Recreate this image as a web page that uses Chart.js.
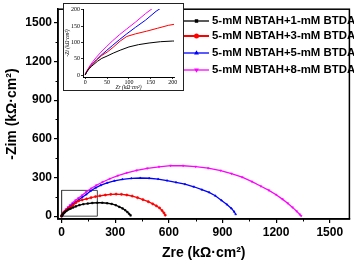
<!DOCTYPE html>
<html lang="en">
<head>
  <meta charset="UTF-8">
  <title>Nyquist plot</title>
  <script src="https://cdn.jsdelivr.net/npm/chart.js"></script>
  <style>
    body { margin: 0; background: #fff; }
    #wrap { position: relative; width: 354px; height: 265px; overflow: hidden; }
    #inset { position: absolute; left: 63px; top: 3px; }
  </style>
</head>
<body>
  <div id="wrap">
    <canvas id="mainChart" width="354" height="265"></canvas>
    <canvas id="inset" width="121" height="88"></canvas>
  </div>

  <script>
    // series labels and colours
    const labels = ['5-mM NBTAH+1-mM BTDA', '5-mM NBTAH+3-mM BTDA', '5-mM NBTAH+5-mM BTDA', '5-mM NBTAH+8-mM BTDA'];
    const colors = ['#000000', '#ff0000', '#0000ff', '#ff00ff'];
    const markers = ['rect', 'circle', 'triangle', 'triangle'];

    // Zre / -Zim values (kΩ·cm²)
    const zre1 = [0, 2, 5, 9, 14, 20, 28, 38, 50, 64, 80, 100, 122, 146, 172, 200, 228, 255, 280, 303, 323, 341, 356, 368, 378, 386];
    const zim1 = [0, 6, 12, 19, 26, 33, 42, 51, 58, 67, 76, 86, 93, 98, 102, 104, 104, 100, 95, 85, 72, 60, 46, 32, 18, 6];

    const zre3 = [0, 2, 5, 9, 14, 20, 28, 38, 50, 64, 80, 95, 115, 140, 165, 190, 215, 245, 275, 305, 335, 365, 395, 425, 455, 485, 510, 530, 548, 562, 572, 580];
    const zim3 = [0, 7, 14, 22, 30, 38, 48, 60, 70, 85, 104, 118, 126, 134, 143, 152, 158, 164, 169, 171, 169, 164, 156, 143, 128, 112, 95, 80, 64, 44, 26, 8];

    const zre5 = [0, 3, 7, 12, 18, 26, 36, 48, 62, 78, 95, 115, 138, 162, 190, 220, 255, 295, 340, 390, 440, 490, 540, 590, 640, 690, 740, 785, 825, 860, 895, 925, 950, 965, 974];
    const zim5 = [0, 9, 18, 27, 36, 47, 60, 74, 90, 108, 126, 146, 168, 195, 220, 240, 258, 274, 286, 293, 296, 294, 288, 276, 262, 248, 228, 205, 185, 158, 122, 90, 60, 35, 15];

    const zre8 = [0, 3, 7, 12, 18, 26, 36, 48, 62, 78, 95, 115, 138, 165, 195, 230, 270, 315, 365, 420, 480, 545, 610, 680, 750, 820, 890, 950, 1010, 1065, 1115, 1160, 1200, 1235, 1265, 1292, 1315, 1332, 1340];
    const zim8 = [0, 10, 20, 31, 42, 55, 70, 86, 104, 123, 141, 162, 188, 215, 240, 265, 290, 314, 336, 355, 371, 383, 392, 391, 384, 372, 354, 330, 302, 268, 232, 200, 166, 132, 100, 68, 38, 14, 2];

    // region shown in the inset
    const boxZre = [0, 200, 200, 0, 0];
    const boxZim = [0, 0, 200, 200, 0];

    const mainTicks = [0, 300, 600, 900, 1200, 1500];
    const insetTicks = [0, 50, 100, 150, 200];

    const seriesX = [zre1, zre3, zre5, zre8];
    const seriesY = [zim1, zim3, zim5, zim8];

    const toPts = (xs, ys) => xs.map((x, i) => ({ x: x, y: ys[i] }));

    const boldFont = size => ({ family: 'Liberation Sans', size: size, weight: 'bold' });
    const plain = v => String(v);

    function markerRotation(i) { return i === 3 ? 180 : 0; }

    // outer frame, minor ticks and legend
    const mainDecor = {
      id: 'mainDecor',
      afterDraw(chart) {
        const ctx = chart.ctx;
        const a = chart.chartArea;
        ctx.save();
        ctx.strokeStyle = '#000';
        ctx.lineWidth = 1.5;
        ctx.strokeRect(a.left, a.top, a.right - a.left, a.bottom - a.top);

        // minor ticks
        ctx.lineWidth = 1;
        const xs = chart.scales.x, ys = chart.scales.y;
        for (let v = 150; v < 1600; v += 300) {
          const px = Math.round(xs.getPixelForValue(v)) + 0.5;
          ctx.beginPath(); ctx.moveTo(px, a.bottom); ctx.lineTo(px, a.bottom + 2.5); ctx.stroke();
          const py = Math.round(ys.getPixelForValue(v)) + 0.5;
          ctx.beginPath(); ctx.moveTo(a.left, py); ctx.lineTo(a.left - 2.5, py); ctx.stroke();
        }

        // legend
        const rows = [21, 36, 53, 70];
        ctx.font = 'bold 11.4px "Liberation Sans"';
        ctx.textBaseline = 'middle';
        labels.forEach((lab, i) => {
          const y = rows[i];
          ctx.strokeStyle = colors[i];
          ctx.fillStyle = colors[i];
          ctx.lineWidth = i === 1 ? 2 : 1.3;
          ctx.beginPath(); ctx.moveTo(184, y); ctx.lineTo(209, y); ctx.stroke();
          Chart.helpers.drawPoint(ctx, { pointStyle: markers[i], radius: 1.5, rotation: markerRotation(i), borderWidth: 0.8 }, 196.5, y);
          ctx.fillStyle = '#000';
          ctx.fillText(lab, 212, y);
        });
        ctx.restore();
      }
    };

    const mainDatasets = seriesX.map((xs, i) => ({
      label: labels[i],
      data: toPts(xs, seriesY[i]),
      showLine: true,
      borderColor: colors[i],
      backgroundColor: colors[i],
      borderWidth: 1.3,
      pointStyle: markers[i],
      pointRotation: markerRotation(i),
      pointRadius: 1.1,
      pointBorderWidth: 0.6
    }));
    mainDatasets.push({
      label: 'box',
      data: toPts(boxZre, boxZim),
      showLine: true,
      borderColor: '#444',
      borderWidth: 1,
      pointRadius: 0
    });

    new Chart(document.getElementById('mainChart'), {
      type: 'scatter',
      data: { datasets: mainDatasets },
      options: {
        responsive: false,
        animation: false,
        devicePixelRatio: 1,
        layout: { padding: { top: 2, right: 3, left: 0, bottom: 0 } },
        plugins: { legend: { display: false }, tooltip: { enabled: false } },
        scales: {
          x: {
            type: 'linear',
            min: -20, max: 1610,
            afterBuildTicks: s => { s.ticks = mainTicks.map(v => ({ value: v })); },
            afterFit: s => { s.height = 46; },
            grid: { drawOnChartArea: false, tickLength: 4, color: '#000', lineWidth: 1.2 },
            border: { color: '#000', width: 1.5 },
            ticks: { font: boldFont(12), color: '#000', padding: 2, maxRotation: 0, callback: plain },
            title: { display: true, text: 'Zre (kΩ·cm²)', font: boldFont(14), color: '#000', padding: { top: 0, bottom: 3 } }
          },
          y: {
            type: 'linear',
            min: -22, max: 1605,
            afterBuildTicks: s => { s.ticks = mainTicks.map(v => ({ value: v })); },
            afterFit: s => { s.width = 58; },
            grid: { drawOnChartArea: false, tickLength: 4, color: '#000', lineWidth: 1.2 },
            border: { color: '#000', width: 1.5 },
            ticks: { font: boldFont(12), color: '#000', padding: 2, callback: plain },
            title: { display: true, text: '-Zim (kΩ·cm²)', font: boldFont(14), color: '#000', padding: { top: 4, bottom: 0 } }
          }
        }
      },
      plugins: [mainDecor]
    });

    // inset: zoom of 0-200 region
    const insetFrame = {
      id: 'insetFrame',
      beforeDraw(chart) {
        const ctx = chart.ctx;
        ctx.save();
        ctx.fillStyle = '#fff';
        ctx.fillRect(0, 0, chart.width, chart.height);
        ctx.restore();
      },
      afterDraw(chart) {
        const ctx = chart.ctx;
        ctx.save();
        ctx.strokeStyle = '#222';
        ctx.lineWidth = 1;
        ctx.strokeRect(0.5, 0.5, chart.width - 1, chart.height - 1);
        ctx.restore();
      }
    };

    const smallFont = { family: 'Liberation Serif', size: 6 };
    const smallItalic = { family: 'Liberation Serif', size: 5.5, style: 'italic' };

    new Chart(document.getElementById('inset'), {
      type: 'scatter',
      data: {
        datasets: seriesX.map((xs, i) => ({
          data: toPts(xs, seriesY[i]),
          showLine: true,
          borderColor: colors[i],
          borderWidth: 1,
          pointRadius: 0
        }))
      },
      options: {
        responsive: false,
        animation: false,
        devicePixelRatio: 1,
        layout: { padding: { top: 6, right: 10, left: 0, bottom: 0 } },
        plugins: { legend: { display: false }, tooltip: { enabled: false } },
        scales: {
          x: {
            type: 'linear',
            min: -5, max: 203,
            afterBuildTicks: s => { s.ticks = insetTicks.map(v => ({ value: v })); },
            afterFit: s => { s.height = 14; },
            grid: { drawOnChartArea: false, tickLength: 2, color: '#000', lineWidth: 0.8 },
            border: { color: '#000', width: 1 },
            ticks: { font: smallFont, color: '#000', padding: 0, maxRotation: 0, callback: plain },
            title: { display: true, text: 'Zr (kΩ·cm²)', font: smallItalic, color: '#000', padding: { top: 0, bottom: 0 } }
          },
          y: {
            type: 'linear',
            min: -6, max: 202,
            afterBuildTicks: s => { s.ticks = insetTicks.map(v => ({ value: v })); },
            afterFit: s => { s.width = 20; },
            grid: { drawOnChartArea: false, tickLength: 2, color: '#000', lineWidth: 0.8 },
            border: { color: '#000', width: 1 },
            ticks: { font: smallFont, color: '#000', padding: 1, callback: plain },
            title: { display: true, text: '-Zi (kΩ·cm²)', font: smallItalic, color: '#000', padding: { top: 1, bottom: 0 } }
          }
        }
      },
      plugins: [insetFrame]
    });
  </script>
</body>
</html>
